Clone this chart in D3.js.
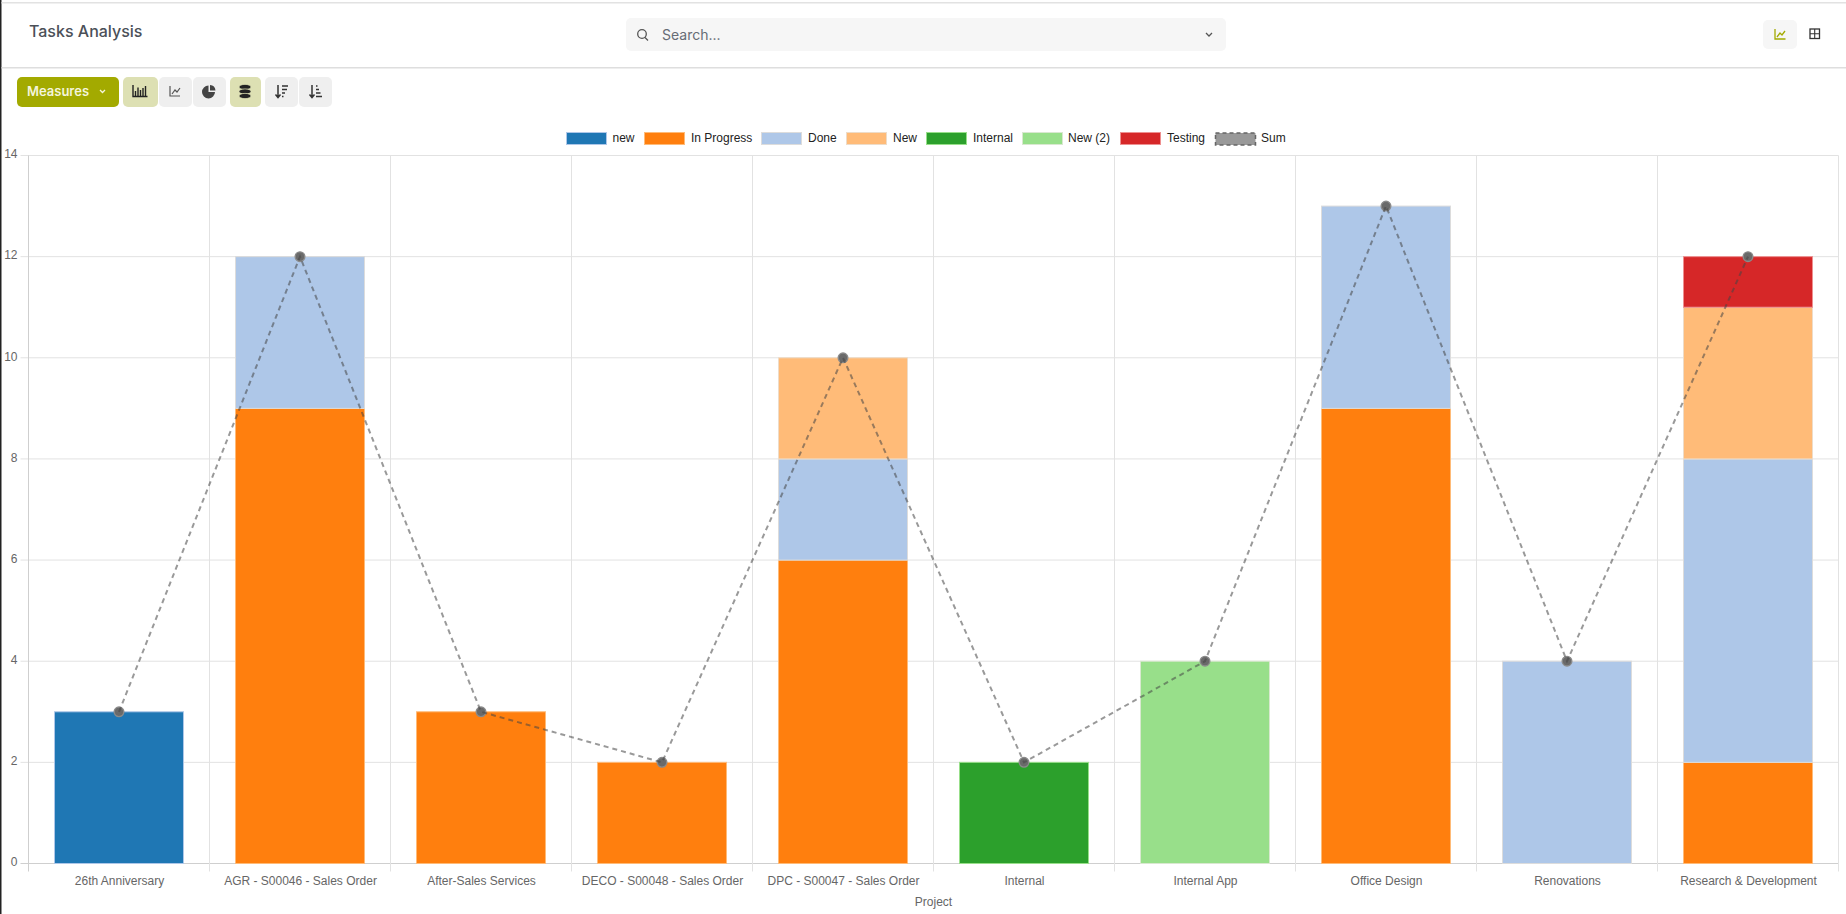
<!DOCTYPE html>
<html><head><meta charset="utf-8">
<script src="https://cdn.jsdelivr.net/npm/d3@7/dist/d3.min.js"></script>
<style>
html,body{margin:0;padding:0;background:#fff;overflow:hidden}
svg{display:block}
</style></head><body><svg id="c" width="1846" height="914"></svg>
<script>
const categories = ["26th Anniversary","AGR - S00046 - Sales Order","After-Sales Services","DECO - S00048 - Sales Order","DPC - S00047 - Sales Order","Internal","Internal App","Office Design","Renovations","Research & Development"];
const seriesNames = ["new","In Progress","Done","New","Internal","New (2)","Testing"];
const seriesColors = ["#1f77b4","#ff7f0e","#aec7e8","#ffbb78","#2ca02c","#98df8a","#d62728"];
const seriesBorders = ["#aec7e8","#ffbb78","#dcdcdc","#eedcc8","#98df8a","#d9e8d0","#ee9090"];
const newValues      = [3,0,0,0,0,0,0,0,0,0];
const inProgress     = [0,9,3,2,6,0,0,9,0,2];
const done           = [0,3,0,0,2,0,0,4,4,6];
const newStage       = [0,0,0,0,2,0,0,0,0,3];
const internalStage  = [0,0,0,0,0,2,0,0,0,0];
const new2           = [0,0,0,0,0,0,4,0,0,0];
const testing        = [0,0,0,0,0,0,0,0,0,1];
const sumValues      = [3,12,3,2,10,2,4,13,4,12];
const yTicks = [0,2,4,6,8,10,12,14];
const legendLabels = seriesNames.concat(["Sum"]);
const stacks = [newValues,inProgress,done,newStage,internalStage,new2,testing];

const svg = d3.select("#c");
const plot = {l:28.5,r:1838.5,t:155.5,b:863.5};
const x = d3.scaleBand().domain(categories).range([plot.l,plot.r]);
const y = d3.scaleLinear().domain([0,14]).range([plot.b,plot.t]);
const barW = 129;
const grid = "#e2e2e2", tickCol = "#666", font = "'Liberation Sans',Arial,sans-serif", ui = "Inter,'Noto Sans',sans-serif";

// page chrome
svg.append("rect").attr("x",0).attr("y",0).attr("width",1.5).attr("height",914).attr("fill","#222");
svg.append("rect").attr("x",1.5).attr("y",2).attr("width",1845).attr("height",1.5).attr("fill","#e2e2e2");
svg.append("rect").attr("x",1.5).attr("y",67).attr("width",1845).attr("height",1.5).attr("fill","#dedede");
svg.append("text").text("Tasks Analysis").attr("x",29).attr("y",37).attr("font-family",ui).attr("font-size",16).attr("font-weight",500).attr("fill","#4b5058");

// search
svg.append("rect").attr("x",626).attr("y",18).attr("width",600).attr("height",33).attr("rx",5).attr("fill","#f6f6f6");
svg.append("circle").attr("cx",642).attr("cy",34).attr("r",4.3).attr("fill","none").attr("stroke","#555").attr("stroke-width",1.3);
svg.append("path").attr("d","M645 37.5L648 40.5").attr("stroke","#555").attr("stroke-width",1.3);
svg.append("text").text("Search...").attr("x",662).attr("y",39.5).attr("font-family",ui).attr("font-size",14).attr("fill","#666c75");
svg.append("path").attr("d","M1206 33L1209 36L1212 33").attr("fill","none").attr("stroke","#555").attr("stroke-width",1.3);

// view switch
svg.append("rect").attr("x",1763).attr("y",20).attr("width",34).attr("height",29).attr("rx",5).attr("fill","#f6f6f6");
svg.append("path").attr("d","M1775 29V39H1785.5").attr("fill","none").attr("stroke","#a3aa00").attr("stroke-width",1.3);
svg.append("path").attr("d","M1777 37L1780 33L1782 35L1785 31").attr("fill","none").attr("stroke","#a3aa00").attr("stroke-width",1.3);
svg.append("rect").attr("x",1810).attr("y",29).attr("width",9.5).attr("height",9.5).attr("fill","none").attr("stroke","#333").attr("stroke-width",1.3);
svg.append("path").attr("d","M1810 33.7H1819.5M1814.7 29V38.5").attr("stroke","#333").attr("stroke-width",1.1);

// toolbar
svg.append("rect").attr("x",17).attr("y",77).attr("width",102).attr("height",30).attr("rx",5).attr("fill","#a3aa00");
svg.append("text").text("Measures").attr("x",27).attr("y",96).attr("font-family",ui).attr("font-size",13).attr("font-weight",600).attr("fill","#f4f5dc");
svg.append("path").attr("d","M100 90L102.5 92.5L105 90").attr("fill","none").attr("stroke","#f4f5dc").attr("stroke-width",1.3);
const toolButtons = [[123,35,1],[159,33,0],[193,33,0],[230,31,1],[265,33,0],[299,33,0]];
svg.selectAll("rect.tb").data(toolButtons).join("rect").attr("class","tb")
  .attr("x",d=>d[0]).attr("y",77).attr("width",d=>d[1]).attr("height",30).attr("rx",5)
  .attr("fill",d=>d[2]?"#dde0b3":"#efefef");
svg.append("path").attr("d","M133 85V96.5H147.5M135.5 96V91M138 96V87.5M140.5 96V90M143 96V88M145.5 96V86").attr("fill","none").attr("stroke","#222").attr("stroke-width",1.4);
svg.append("path").attr("d","M170 86V96H180M172 94L175 90L177 92L180 88").attr("fill","none").attr("stroke","#555").attr("stroke-width",1.2);
svg.append("path").attr("d","M208.5 85.5A6.5 6.5 0 1 0 215 92H208.5Z M210 85A6 6 0 0 1 215.5 90.5H210Z").attr("fill","#444");
svg.selectAll("ellipse.db").data([87,91.5,96]).join("ellipse").attr("class","db").attr("cx",245).attr("cy",d=>d).attr("rx",6).attr("ry",2.6).attr("fill","#222").attr("stroke","#dde0b3").attr("stroke-width",.7);
svg.append("path").attr("d","M278 85V97M275.5 94.5L278 97.5L280.5 94.5M282 86H288M282 89.5H287M282 93H285M282 96.5H283.5").attr("fill","none").attr("stroke","#333").attr("stroke-width",1.5);
svg.append("path").attr("d","M312 85V97M309.5 94.5L312 97.5L314.5 94.5M316 86H317.5M316 89.5H319M316 93H320.5M316 96.5H322").attr("fill","none").attr("stroke","#333").attr("stroke-width",1.5);

// legend
const legendBoxX = [566,644,761,846,926,1022,1120,1215];
const legendTextX = [612.5,691,808,893,973,1068,1167,1261];
const lg = svg.append("g");
legendLabels.forEach((name,i)=>{
  if(i<7){
    lg.append("rect").attr("x",legendBoxX[i]+.5).attr("y",132.5).attr("width",40).attr("height",12)
      .attr("fill",seriesColors[i]).attr("stroke",seriesBorders[i]);
  } else {
    lg.append("rect").attr("x",legendBoxX[i]+.5).attr("y",133).attr("width",40).attr("height",12)
      .attr("fill","#999").attr("stroke","#666").attr("stroke-width",1.5).attr("stroke-dasharray","4 3");
  }
  lg.append("text").text(name).attr("x",legendTextX[i]).attr("y",142).attr("font-family",font).attr("font-size",12).attr("fill","#222");
});

// grid
svg.append("g").selectAll("line").data(yTicks).join("line")
  .attr("x1",plot.l-8).attr("x2",plot.r).attr("y1",d=>y(d)).attr("y2",d=>y(d))
  .attr("stroke",d=>d===0?"#cfcfcf":grid);
const vLines = categories.map(c=>x(c)).concat([plot.r]);
svg.append("g").selectAll("line").data(vLines).join("line")
  .attr("x1",d=>d).attr("x2",d=>d).attr("y1",plot.t).attr("y2",plot.b+8)
  .attr("stroke",(d,i)=>i===0?"#cfcfcf":grid);

// axes
const yAxis = d3.axisLeft(y).tickValues(yTicks).tickSize(0).tickPadding(0);
const ya = svg.append("g").attr("transform",`translate(${plot.l-11},-1.5)`).call(yAxis);
ya.select(".domain").remove();
ya.selectAll("text").attr("font-family",font).attr("font-size",12).attr("fill",tickCol);
const xAxis = d3.axisBottom(x).tickSize(0).tickPadding(0);
const xa = svg.append("g").attr("transform",`translate(0.5,${plot.b+12.5})`).call(xAxis);
xa.select(".domain").remove();
xa.selectAll("text").attr("font-family",font).attr("font-size",12).attr("fill",tickCol);
svg.append("text").text("Project").attr("x",(plot.l+plot.r)/2).attr("y",906).attr("text-anchor","middle").attr("font-family",font).attr("font-size",12).attr("fill",tickCol);

// stacked bars
const rows = categories.map((c,i)=>{const o={category:c};seriesNames.forEach((s,j)=>o[s]=stacks[j][i]);return o;});
const stacked = d3.stack().keys(seriesNames)(rows);
svg.append("g").selectAll("g").data(stacked).join("g")
  .attr("fill",(d,i)=>seriesColors[i]).attr("stroke",(d,i)=>seriesBorders[i])
  .selectAll("rect").data(d=>d.filter(v=>v[1]>v[0])).join("rect")
  .attr("x",d=>Math.floor(x(d.data.category)+(x.bandwidth()-barW)/2)+.5)
  .attr("width",barW)
  .attr("y",d=>y(d[1]))
  .attr("height",d=>y(d[0])-y(d[1]));

// sum line (points under the dashed stroke)
const cx = (d,i)=>x(categories[i])+x.bandwidth()/2;
svg.append("g").selectAll("circle").data(sumValues).join("circle")
  .attr("cx",cx).attr("cy",d=>y(d)).attr("r",4.8)
  .attr("fill","#6a6a6a").attr("stroke","#8a8a8a").attr("stroke-width",1.4);
const lineGen = d3.line().x(cx).y(d=>y(d));
svg.append("path").attr("d",lineGen(sumValues)).attr("fill","none").attr("stroke","rgba(70,70,70,.55)").attr("stroke-width",2).attr("stroke-dasharray","5 4");
</script></body></html>
